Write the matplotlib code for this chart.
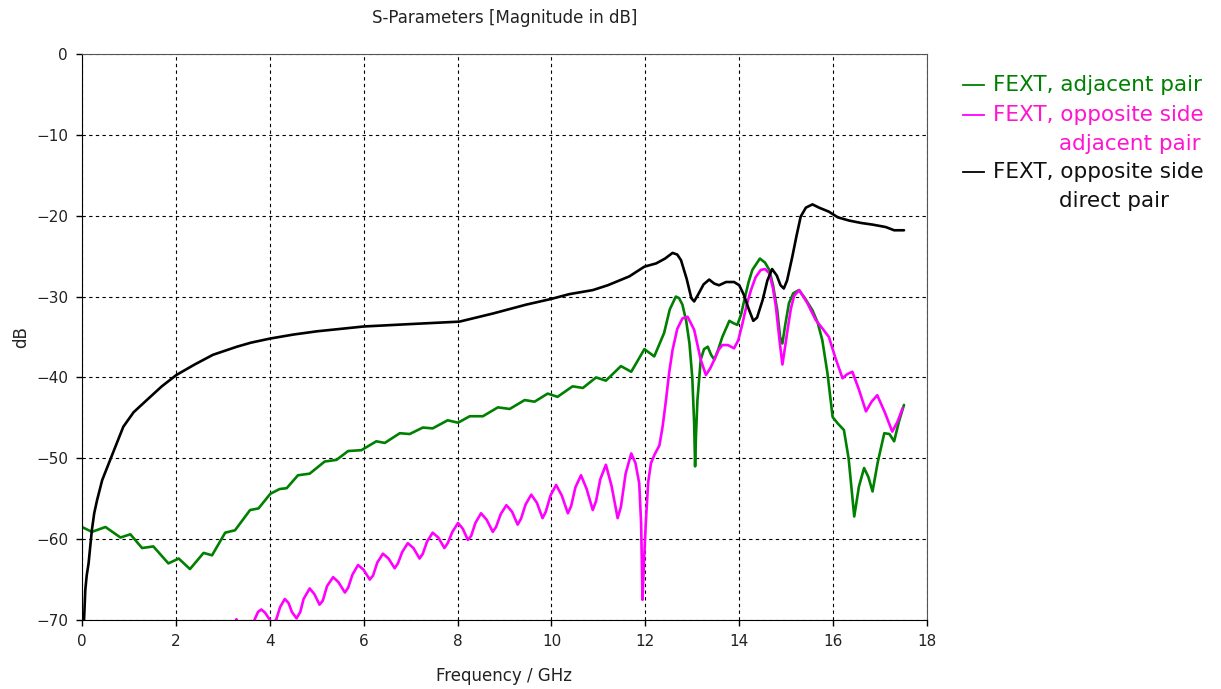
import matplotlib
matplotlib.use("Agg")
import matplotlib.pyplot as plt
from matplotlib.lines import Line2D

# FEXT, adjacent pair (green)
f_adj = [0.0, 0.21, 0.50, 0.82, 1.03, 1.28, 1.52, 1.84, 2.06, 2.30, 2.59, 2.77,
         3.05, 3.26, 3.58, 3.76, 4.01, 4.21, 4.36, 4.60, 4.85, 5.17, 5.42, 5.67,
         5.95, 6.27, 6.45, 6.77, 6.98, 7.26, 7.47, 7.79, 8.01, 8.26, 8.54, 8.86,
         9.11, 9.43, 9.64, 9.92, 10.13, 10.45, 10.67, 10.95, 11.16, 11.48, 11.70,
         11.98, 12.19, 12.40, 12.52, 12.65, 12.72, 12.79, 12.87, 12.94, 13.00,
         13.04, 13.06, 13.08, 13.11, 13.18, 13.25, 13.33, 13.40, 13.47, 13.55,
         13.64, 13.79, 13.88, 13.96, 14.04, 14.11, 14.20, 14.28, 14.44, 14.55,
         14.64, 14.72, 14.81, 14.87, 14.92, 14.98, 15.06, 15.15, 15.27, 15.40,
         15.56, 15.67, 15.77, 15.88, 15.99, 16.10, 16.23, 16.33, 16.45, 16.55,
         16.66, 16.75, 16.84, 16.95, 17.09, 17.20, 17.30, 17.40, 17.51]
db_adj = [-58.5, -59.1, -58.5, -59.8, -59.4, -61.1, -60.9, -63.0, -62.4, -63.7,
          -61.7, -62.0, -59.2, -58.9, -56.4, -56.2, -54.4, -53.8, -53.7, -52.1,
          -51.9, -50.4, -50.2, -49.1, -49.0, -47.9, -48.1, -46.9, -47.0, -46.2,
          -46.3, -45.3, -45.6, -44.8, -44.8, -43.7, -43.9, -42.8, -43.0, -42.0,
          -42.4, -41.1, -41.3, -40.0, -40.4, -38.6, -39.3, -36.5, -37.4, -34.5,
          -31.6, -30.0, -30.2, -31.0, -33.0, -35.8, -40.0, -45.7, -51.0, -47.0,
          -42.8, -37.8, -36.5, -36.2, -37.2, -37.8, -36.6, -35.0, -33.0, -33.3,
          -33.5, -32.2, -30.4, -28.2, -26.7, -25.3, -25.8, -26.7, -28.6, -31.7,
          -35.0, -35.8, -33.5, -30.8, -29.6, -29.2, -30.2, -31.7, -33.2, -35.4,
          -39.5, -44.9, -45.7, -46.5, -50.0, -57.2, -53.5, -51.2, -52.3, -54.1,
          -50.5, -46.9, -47.0, -47.9, -45.5, -43.4]

# FEXT, opposite side adjacent pair (magenta)
f_opp_adj = [3.20, 3.29, 3.36, 3.60, 3.68, 3.75, 3.82, 3.90, 3.99, 4.06, 4.14,
             4.22, 4.32, 4.40, 4.47, 4.57, 4.65, 4.72, 4.85, 4.95, 5.06, 5.13,
             5.22, 5.35, 5.46, 5.60, 5.67, 5.76, 5.88, 6.00, 6.13, 6.20, 6.29,
             6.41, 6.53, 6.66, 6.73, 6.82, 6.94, 7.06, 7.19, 7.26, 7.35, 7.47,
             7.59, 7.72, 7.79, 7.89, 8.01, 8.11, 8.22, 8.29, 8.38, 8.50, 8.62,
             8.75, 8.82, 8.92, 9.04, 9.16, 9.28, 9.35, 9.45, 9.57, 9.69, 9.81,
             9.88, 9.98, 10.10, 10.22, 10.35, 10.42, 10.51, 10.63, 10.75, 10.88,
             10.95, 11.04, 11.16, 11.28, 11.41, 11.48, 11.58, 11.70, 11.79, 11.87,
             11.91, 11.94, 11.97, 12.01, 12.06, 12.12, 12.20, 12.30, 12.37, 12.44,
             12.51, 12.58, 12.68, 12.79, 12.90, 13.04, 13.18, 13.29, 13.38, 13.47,
             13.56, 13.64, 13.76, 13.89, 13.98, 14.07, 14.16, 14.25, 14.35, 14.46,
             14.55, 14.64, 14.72, 14.78, 14.86, 14.92, 14.97, 15.03, 15.10, 15.17,
             15.28, 15.45, 15.63, 15.78, 15.91, 16.05, 16.20, 16.30, 16.41, 16.55,
             16.70, 16.82, 16.94, 17.10, 17.26, 17.37, 17.48]
db_opp_adj = [-71.0, -69.9, -71.0, -71.0, -69.9, -69.0, -68.7, -69.1, -69.9,
              -70.5, -69.9, -68.4, -67.4, -67.9, -69.0, -69.8, -69.0, -67.4,
              -66.1, -66.8, -68.1, -67.6, -65.8, -64.7, -65.3, -66.6, -66.0,
              -64.4, -63.2, -63.8, -65.0, -64.5, -62.9, -61.8, -62.4, -63.6,
              -63.0, -61.6, -60.5, -61.1, -62.4, -61.8, -60.3, -59.2, -59.8,
              -61.1, -60.5, -59.1, -58.0, -58.7, -60.1, -59.6, -58.0, -56.8,
              -57.6, -59.1, -58.5, -56.9, -55.8, -56.6, -58.2, -57.5, -55.7,
              -54.5, -55.5, -57.4, -56.6, -54.6, -53.3, -54.6, -56.8, -55.9,
              -53.6, -52.1, -53.8, -56.4, -55.3, -52.6, -50.8, -53.4, -57.4,
              -56.0, -51.9, -49.4, -50.6, -53.1, -58.0, -67.5, -63.0, -58.0,
              -53.0, -50.6, -49.5, -48.4, -46.0, -42.8, -39.3, -36.6, -34.0,
              -32.7, -32.5, -34.1, -37.8, -39.7, -38.9, -37.8, -36.6, -36.0,
              -36.0, -36.4, -35.4, -33.3, -31.0, -29.2, -27.6, -26.7, -26.6,
              -27.1, -29.0, -31.2, -35.5, -38.4, -36.5, -34.1, -31.5, -29.9,
              -29.2, -30.8, -32.9, -34.0, -35.0, -37.6, -40.1, -39.6, -39.3,
              -41.5, -44.2, -43.0, -42.2, -44.3, -46.7, -45.5, -43.8]

# FEXT, opposite side direct pair (black)
f_opp_dir = [0.04, 0.07, 0.10, 0.14, 0.21, 0.26, 0.32, 0.43, 0.60, 0.75, 0.88,
             1.10, 1.38, 1.70, 2.01, 2.40, 2.79, 3.30, 3.60, 4.00, 4.50, 5.00,
             5.50, 6.00, 7.00, 8.04, 8.75, 9.46, 9.99, 10.38, 10.88, 11.20, 11.66,
             11.98, 12.23, 12.42, 12.58, 12.68, 12.76, 12.88, 12.98, 13.04, 13.12,
             13.24, 13.36, 13.47, 13.57, 13.72, 13.89, 14.00, 14.10, 14.20, 14.30,
             14.38, 14.50, 14.60, 14.70, 14.80, 14.88, 14.95, 15.02, 15.13, 15.22,
             15.31, 15.42, 15.56, 15.70, 15.91, 16.10, 16.34, 16.60, 16.84, 17.12,
             17.30, 17.51]
db_opp_dir = [-70.5, -66.3, -64.5, -63.0, -58.9, -56.8, -55.2, -52.7, -50.2,
              -48.0, -46.1, -44.3, -42.8, -41.1, -39.7, -38.4, -37.2, -36.2,
              -35.7, -35.2, -34.7, -34.3, -34.0, -33.7, -33.4, -33.1, -32.1,
              -31.0, -30.3, -29.7, -29.2, -28.6, -27.5, -26.3, -25.9, -25.3,
              -24.6, -24.8, -25.5, -27.8, -30.2, -30.6, -29.8, -28.5, -27.9,
              -28.4, -28.6, -28.2, -28.2, -28.6, -29.8, -31.5, -33.0, -32.6,
              -30.4, -28.0, -26.6, -27.4, -28.6, -29.0, -28.0, -25.1, -22.5,
              -20.1, -19.0, -18.6, -19.0, -19.5, -20.2, -20.6, -20.9, -21.1,
              -21.4, -21.8, -21.8]

fig = plt.figure(figsize=(12.21, 6.89), dpi=100)
ax = fig.add_axes([82 / 1221, 1 - 620 / 689, 845 / 1221, 566 / 689])

style = dict(lw=1.9, solid_joinstyle="round", solid_capstyle="round")
ax.plot(f_adj, db_adj, color="#008000", **style)
ax.plot(f_opp_adj, db_opp_adj, color="#ff00ff", **style)
ax.plot(f_opp_dir, db_opp_dir, color="black", **style)

ax.set_xlim(0, 18)
ax.set_ylim(-70, 0)
ax.set_xticks(range(0, 19, 2))
ax.set_yticks(range(-70, 1, 10))
ax.grid(True, color="black", linestyle=(0, (3, 3)), linewidth=0.8)
ax.tick_params(direction="out", length=4, width=1, pad=6, labelsize=11,
               colors="black", labelcolor="#222222")
for side in ("left", "bottom"):
    ax.spines[side].set_color("black")
for side in ("top", "right"):
    ax.spines[side].set_color("#555555")

ax.set_xlabel("Frequency / GHz", fontsize=12, color="#222222")
ax.set_ylabel("dB", fontsize=12, color="#222222")
ax.xaxis.set_label_coords(0.5, -0.083)
ax.yaxis.set_label_coords(-0.061, 0.5)

fig.text(505 / 1221, 1 - 18 / 689, "S-Parameters [Magnitude in dB]",
         ha="center", va="center", fontsize=12, color="#222222")

# legend drawn by hand so the wrapped entries line up
entries = [
    ("#008000", "#008000", ["FEXT, adjacent pair"], 85),
    ("#ff00ff", "#ff14d0", ["FEXT, opposite side", "adjacent pair"], 115),
    ("black", "#111111", ["FEXT, opposite side", "direct pair"], 172),
]
for lcolor, tcolor, lines, ypix in entries:
    y = 1 - ypix / 689
    fig.add_artist(Line2D([963 / 1221, 984 / 1221], [y, y], color=lcolor, lw=1.3))
    fig.text(993 / 1221, y, lines[0], ha="left", va="center",
             fontsize=15.5, color=tcolor)
    if len(lines) > 1:
        y2 = 1 - (ypix + 29) / 689
        fig.text(1059 / 1221, y2, lines[1], ha="left", va="center",
                 fontsize=15.5, color=tcolor)

fig.savefig("out.png", dpi=100)
